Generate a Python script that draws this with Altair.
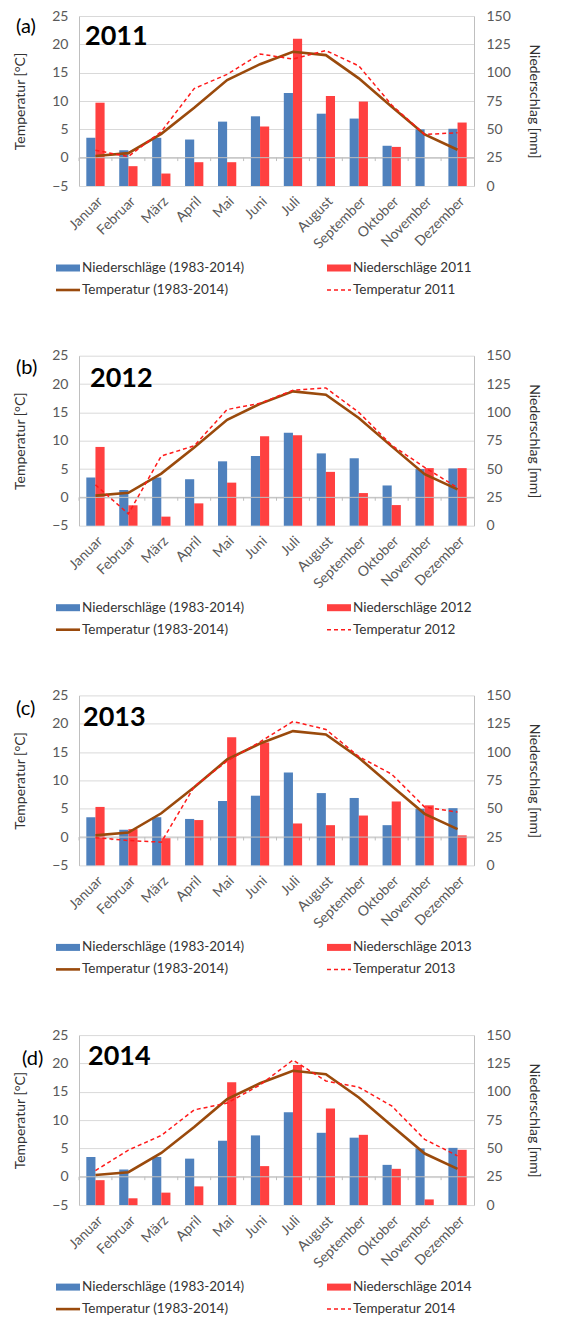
import altair as alt
import pandas as pd

months = ["Januar", "Februar", "März", "April", "Mai", "Juni", "Juli",
          "August", "September", "Oktober", "November", "Dezember"]

# long-term means (1983-2014)
precip_mean = [42.5, 31.5, 42.5, 41.0, 56.8, 61.5, 82.0, 63.8, 59.5, 35.5, 50.0, 50.5]
temp_mean = [0.3, 0.8, 4.2, 8.8, 13.7, 16.5, 18.7, 18.1, 14.0, 9.0, 4.1, 1.4]

years = ["2011", "2012", "2013", "2014"]
letters = ["(a)", "(b)", "(c)", "(d)"]

precip_2011 = [73.5, 17.5, 11.0, 21.0, 21.0, 52.5, 130.0, 79.5, 74.5, 34.5, 0.0, 56.0]
temp_2011 = [1.3, 0.2, 4.6, 12.2, 14.7, 18.3, 17.4, 18.9, 16.2, 9.3, 4.1, 4.4]

precip_2012 = [69.5, 18.0, 8.0, 19.7, 38.0, 79.0, 79.7, 47.5, 28.8, 18.2, 50.8, 50.8]
temp_2012 = [2.2, -2.9, 7.3, 9.1, 15.5, 16.6, 18.9, 19.3, 15.0, 9.2, 5.3, 1.7]

precip_2013 = [51.6, 32.0, 24.0, 40.0, 113.0, 108.5, 37.0, 35.5, 44.0, 56.4, 53.0, 26.5]
temp_2013 = [-0.1, -0.6, -0.9, 8.9, 13.4, 16.8, 20.4, 19.0, 14.2, 11.1, 5.3, 4.4]

precip_2014 = [22.0, 6.0, 11.0, 16.5, 108.5, 34.4, 123.6, 85.3, 62.0, 32.0, 5.0, 48.8]
temp_2014 = [1.1, 4.7, 7.3, 11.8, 13.0, 16.2, 20.6, 16.9, 15.8, 12.5, 6.6, 3.7]

precip_years = [precip_2011, precip_2012, precip_2013, precip_2014]
temp_years = [temp_2011, temp_2012, temp_2013, temp_2014]

temp_ticks = [-5, 0, 5, 10, 15, 20, 25]
precip_ticks = [0, 25, 50, 75, 100, 125, 150]

# styles / layout
FONT = "Lato"
W, H = 395, 170
BLUE = "#4F81BD"
RED = "#FF4040"
BROWN = "#9A4A0C"
DASHRED = "#FF1A1A"
LABEL = "#595959"
TXT = "#333333"
GRID = "#D9D9D9"
AX = "#BFBFBF"

letter_pos = [(-63, 11), (-63, 12), (-63, 14), (-57, 24)]
year_pos = [(6, 21), (11, 23), (4, 23), (9, 22)]


def panel(i):
    year = years[i]
    bars_df = pd.DataFrame({
        "month": months * 2,
        "series": ["mean"] * 12 + ["year"] * 12,
        "mm": precip_mean + precip_years[i],
    })
    mean_df = pd.DataFrame({"month": months, "temp": temp_mean})
    year_df = pd.DataFrame({"month": months, "temp": temp_years[i]})
    tick_df = pd.DataFrame({"month": months, "temp": [0] * 12, "temp2": [-0.6] * 12})
    one = pd.DataFrame({"k": [0]})

    x_scale = alt.Scale(domain=months, paddingInner=0, paddingOuter=0)
    x_axis = alt.Axis(title=None, labelAngle=-45, labelAlign="right", labelBaseline="top",
                      labelPadding=8, labelFontSize=14, labelColor=LABEL, labelFont=FONT,
                      domain=False, ticks=False, grid=False, labelOverlap=False)
    x = alt.X("month:N", sort=months, scale=x_scale, axis=x_axis)

    bars = alt.Chart(bars_df).mark_bar().encode(
        x=x,
        xOffset=alt.XOffset("series:N", sort=["mean", "year"],
                            scale=alt.Scale(domain=["mean", "year"], paddingInner=0, paddingOuter=0.8)),
        y=alt.Y("mm:Q", scale=alt.Scale(domain=[0, 150], nice=False, zero=True),
                axis=alt.Axis(orient="right", values=precip_ticks, grid=False, ticks=False,
                              domainColor=AX, labelPadding=12, labelFontSize=14,
                              labelColor=LABEL, title="Niederschlag [mm]", titlePadding=16,
                              titleFontSize=14, titleFontWeight="normal", titleColor=TXT)),
        color=alt.Color("series:N", scale=alt.Scale(domain=["mean", "year"], range=[BLUE, RED]),
                        legend=None),
    )

    yT_scale = alt.Scale(domain=[-5, 25], nice=False, zero=False)
    yT_axis = alt.Axis(orient="left", values=temp_ticks, grid=True, gridColor=GRID, ticks=False,
                       domainColor=AX, labelPadding=11, labelFontSize=14, labelColor=LABEL,
                       title="Temperatur [°C]", titlePadding=24, titleFontSize=14,
                       titleFontWeight="normal", titleColor=TXT)

    zero = alt.Chart(one).mark_rule(color=AX, strokeWidth=1).encode(
        y=alt.Y(datum=0, scale=yT_scale, axis=yT_axis))
    ticks = alt.Chart(tick_df).mark_rule(color=AX, strokeWidth=1).encode(
        x=alt.X("month:N", sort=months, scale=x_scale, axis=x_axis, bandPosition=0),
        y=alt.Y("temp:Q", scale=yT_scale, axis=yT_axis),
        y2="temp2:Q",
    )
    line_mean = alt.Chart(mean_df).mark_line(color=BROWN, strokeWidth=2.6).encode(
        x=x, y=alt.Y("temp:Q", scale=yT_scale, axis=yT_axis))
    line_year = alt.Chart(year_df).mark_line(color=DASHRED, strokeWidth=1.5,
                                             strokeDash=[4, 3]).encode(
        x=x, y=alt.Y("temp:Q", scale=yT_scale, axis=yT_axis))

    lx, ly = letter_pos[i]
    yx, yy = year_pos[i]
    letter = alt.Chart(one).mark_text(text=letters[i], fontSize=20, align="left",
                                      baseline="middle", color="#000000").encode(
        x=alt.value(lx), y=alt.value(ly))
    ytitle = alt.Chart(one).mark_text(text=year, fontSize=27, fontWeight="bold", align="left",
                                      baseline="middle", color="#000000").encode(
        x=alt.value(yx), y=alt.value(yy))

    # custom legend
    r1, r2 = 252, 274
    c1, c2 = -23, 248
    sw = 24
    leg = [
        alt.Chart(one).mark_rect(color=BLUE).encode(
            x=alt.value(c1), x2=alt.value(c1 + sw), y=alt.value(r1 - 3.5), y2=alt.value(r1 + 3.5)),
        alt.Chart(one).mark_rect(color=RED).encode(
            x=alt.value(c2), x2=alt.value(c2 + sw), y=alt.value(r1 - 3.5), y2=alt.value(r1 + 3.5)),
        alt.Chart(one).mark_rule(color=BROWN, strokeWidth=2.6).encode(
            x=alt.value(c1), x2=alt.value(c1 + sw), y=alt.value(r2)),
        alt.Chart(one).mark_rule(color=DASHRED, strokeWidth=1.5, strokeDash=[4, 3]).encode(
            x=alt.value(c2), x2=alt.value(c2 + sw), y=alt.value(r2)),
    ]
    leg_texts = [
        ("Niederschläge (1983-2014)", c1 + sw + 2, r1),
        ("Niederschläge " + year, c2 + sw + 2, r1),
        ("Temperatur (1983-2014)", c1 + sw + 2, r2),
        ("Temperatur " + year, c2 + sw + 2, r2),
    ]
    for t, tx, ty in leg_texts:
        leg.append(alt.Chart(one).mark_text(text=t, fontSize=13.5, align="left", baseline="middle",
                                            color=TXT).encode(x=alt.value(tx), y=alt.value(ty)))

    temp_layer = alt.layer(zero, ticks, line_mean, line_year, letter, ytitle, *leg)
    return alt.layer(bars, temp_layer).resolve_scale(y="independent").properties(width=W, height=H)


chart = alt.vconcat(*[panel(i) for i in range(4)], spacing=51.7).properties(
    padding={"left": 5, "top": 1, "right": 6, "bottom": 0}
).configure(font=FONT).configure_view(stroke=None)

chart.save("out.html", embed_options={"renderer": "svg", "actions": False})
